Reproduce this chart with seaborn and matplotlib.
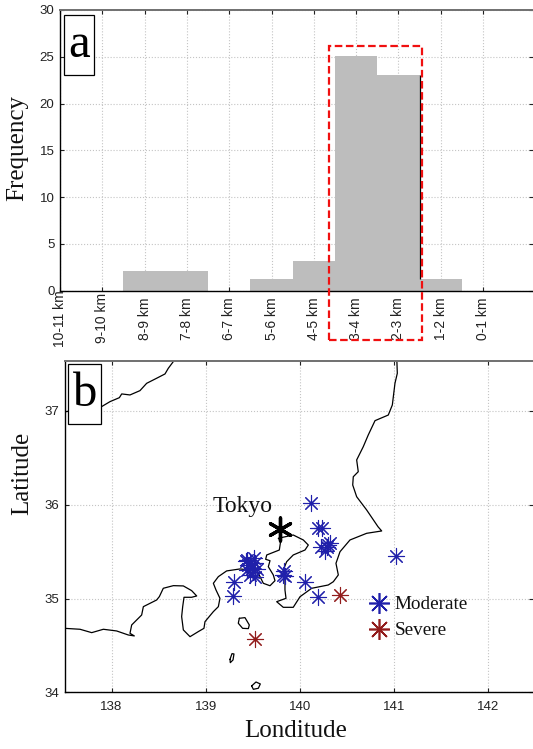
import matplotlib
matplotlib.use("Agg")
import matplotlib.pyplot as plt
import seaborn as sns
from matplotlib.lines import Line2D
from matplotlib.patches import Rectangle

# panel a: histogram of depth
km_labels = ["10-11 km", "9-10 km", "8-9 km", "7-8 km", "6-7 km", "5-6 km",
             "4-5 km", "3-4 km", "2-3 km", "1-2 km", "0-1 km"]
km_counts = [0, 0, 2.1, 2.1, 0, 1.2, 3.2, 25.1, 23.1, 1.2, 0]
freq_ticks = [0, 5, 10, 15, 20, 25, 30]

# panel b: coastlines, lon / lat
coast_south_lon = [137.5, 137.665, 137.789, 137.913, 138.054, 138.178, 138.242, 138.196, 138.214, 138.320,
                   138.338, 138.479, 138.508, 138.550, 138.657, 138.763, 138.851, 138.905, 138.851, 138.770,
                   138.756, 138.745, 138.763, 138.834, 138.922, 138.982, 138.993, 139.082, 139.135, 139.152,
                   139.110, 139.082, 139.135, 139.223, 139.365, 139.471, 139.560, 139.613, 139.684, 139.737,
                   139.719, 139.666, 139.684, 139.638, 139.649, 139.783, 139.798, 139.772, 139.931, 140.038,
                   140.091, 140.056, 139.931, 139.861, 139.825, 139.843, 139.843, 139.854, 139.755, 139.825,
                   139.931, 140.003, 140.127, 140.303, 140.357, 140.410, 140.385, 140.428, 140.534, 140.711,
                   140.871, 140.832, 140.711, 140.605, 140.563, 140.569, 140.622, 140.605, 140.675, 140.728,
                   140.800, 140.941, 140.984, 141.012, 141.037, 141.030]
coast_south_lat = [34.682, 34.672, 34.636, 34.672, 34.654, 34.611, 34.601, 34.629, 34.718, 34.824,
                   34.913, 34.984, 35.020, 35.109, 35.137, 35.134, 35.084, 35.027, 35.013, 35.013,
                   34.913, 34.807, 34.665, 34.593, 34.647, 34.682, 34.753, 34.860, 34.913, 35.002,
                   35.091, 35.162, 35.233, 35.294, 35.315, 35.304, 35.269, 35.162, 35.136, 35.190,
                   35.251, 35.339, 35.403, 35.418, 35.464, 35.517, 35.616, 35.642, 35.677, 35.624,
                   35.570, 35.517, 35.464, 35.392, 35.304, 35.197, 35.091, 35.002, 34.966, 34.906,
                   34.906, 35.019, 35.109, 35.144, 35.179, 35.251, 35.375, 35.499, 35.624, 35.695,
                   35.720, 35.765, 35.944, 36.085, 36.210, 36.298, 36.352, 36.477, 36.618, 36.743,
                   36.896, 36.956, 37.063, 37.294, 37.401, 37.6]
coast_north_lon = [137.5, 137.895, 137.984, 138.083, 138.108, 138.196, 138.302, 138.373, 138.479, 138.568,
                   138.603, 138.656, 138.70]
coast_north_lat = [36.99, 37.046, 37.099, 37.141, 37.181, 37.170, 37.216, 37.294, 37.348, 37.394,
                   37.454, 37.525, 37.6]
island1_lon = [139.358, 139.418, 139.464, 139.454, 139.393, 139.347, 139.358]
island1_lat = [34.789, 34.796, 34.718, 34.679, 34.682, 34.736, 34.789]
island2_lon = [139.259, 139.280, 139.301, 139.291, 139.262, 139.259]
island2_lat = [34.352, 34.412, 34.409, 34.345, 34.316, 34.352]
island3_lon = [139.489, 139.535, 139.581, 139.560, 139.507, 139.489]
island3_lat = [34.068, 34.110, 34.089, 34.043, 34.032, 34.068]

# panel b: events
moderate_lon = [140.120, 140.190, 140.233, 140.321, 140.222, 140.286, 140.268, 140.304, 141.026, 140.056,
                140.197, 139.836, 139.843, 139.827, 139.301, 139.291, 139.443, 139.514, 139.471, 139.524,
                139.489, 139.436, 139.549, 139.471, 139.524, 139.507, 139.454, 139.429]
moderate_lat = [36.015, 35.748, 35.748, 35.596, 35.546, 35.546, 35.510, 35.571, 35.450, 35.180,
                35.020, 35.294, 35.240, 35.251, 35.180, 35.027, 35.411, 35.429, 35.375, 35.375,
                35.322, 35.304, 35.311, 35.251, 35.233, 35.286, 35.357, 35.404]
severe_lon = [140.431, 139.528]
severe_lat = [35.041, 34.569]
tokyo_lon = [139.790]
tokyo_lat = [35.738]

sns.set_theme(style="white")
plt.rcParams["font.family"] = ["Liberation Sans", "DejaVu Sans"]
serif = ["Liberation Serif", "DejaVu Serif"]

blue = "#2020aa"
dark_red = "#921c1c"

fig = plt.figure(figsize=(5.33, 7.49), dpi=100)
ax_a = fig.add_axes([60 / 533, 1 - 290.5 / 749, 473 / 533, 280.5 / 749])
ax_b = fig.add_axes([64.5 / 533, 1 - 692.3 / 749, 468.5 / 533, 331.3 / 749])


def style_axes(ax):
    ax.grid(True, linestyle=":", color="#c4c4c4", linewidth=0.8)
    ax.set_axisbelow(True)
    ax.tick_params(direction="in", top=True, right=True, length=3, width=0.8, color="#222222",
                   bottom=True, left=True, labelsize=9.5, labelcolor="#222222")
    for side in ["left", "bottom"]:
        ax.spines[side].set_color("black")
        ax.spines[side].set_linewidth(1.0)
    ax.spines["top"].set_color("#707070")
    ax.spines["top"].set_linewidth(1.4)
    ax.spines["right"].set_visible(False)


def panel_letter(ax, letter, x, y, w, h):
    ax.add_patch(Rectangle((x, y), w, h, transform=ax.transAxes, facecolor="white",
                           edgecolor="black", linewidth=0.9, zorder=6))
    ax.text(x + w / 2, y + h / 2, letter, transform=ax.transAxes, ha="center", va="center",
            fontsize=35, family=serif, color="black", zorder=7)


# panel a
sns.barplot(x=km_labels, y=km_counts, width=1, color="#bdbdbd", saturation=1, linewidth=0, ax=ax_a)
ax_a.set_xlim(0, 11.18)
ax_a.set_ylim(0, 30)
ax_a.set_yticks(freq_ticks)
style_axes(ax_a)
ax_a.tick_params(axis="x", labelrotation=90, labelsize=10, pad=20)
ax_a.tick_params(axis="y", pad=4)
for lab in ax_a.get_xticklabels():
    lab.set_va("center")
ax_a.vlines(8.5, 1.2, 23.1, color="black", linewidth=0.9, zorder=3)
ax_a.add_patch(Rectangle((6.35, -5.3), 2.2, 31.4, fill=False, edgecolor="#f01010", linewidth=1.6,
                         linestyle=(0, (3.4, 1.6)), clip_on=False, zorder=5))
ax_a.set_ylabel("Frequency", fontsize=18, family=serif, color="#111111")
ax_a.yaxis.set_label_coords(-32 / 473, 0.508)
panel_letter(ax_a, "a", 0.0085, 0.768, 0.0624, 0.214)

# panel b
ax_b.plot(coast_south_lon, coast_south_lat, color="black", linewidth=0.9)
ax_b.plot(coast_north_lon, coast_north_lat, color="black", linewidth=0.9)
ax_b.plot(island1_lon, island1_lat, color="black", linewidth=0.9)
ax_b.plot(island2_lon, island2_lat, color="black", linewidth=0.9)
ax_b.plot(island3_lon, island3_lat, color="black", linewidth=0.9)

sns.scatterplot(x=moderate_lon, y=moderate_lat, marker=(8, 2, 0), s=135, color=blue, linewidth=0.8,
                ax=ax_b, zorder=4)
sns.scatterplot(x=severe_lon, y=severe_lat, marker=(8, 2, 0), s=135, color=dark_red, linewidth=0.8,
                ax=ax_b, zorder=4)
sns.scatterplot(x=tokyo_lon, y=tokyo_lat, marker=(6, 2, 0), s=275, color="black", linewidth=2.4,
                ax=ax_b, zorder=5)

ax_b.set_xlim(137.5, 142.479)
ax_b.set_ylim(34, 37.532)
ax_b.set_xticks([138, 139, 140, 141, 142])
ax_b.set_yticks([34, 35, 36, 37])
style_axes(ax_b)
ax_b.tick_params(axis="x", pad=6)
ax_b.tick_params(axis="y", pad=4)
ax_b.text(139.394, 35.979, "Tokyo", ha="center", va="center", fontsize=17, family=serif, color="#111111")
ax_b.set_xlabel("Londitude", fontsize=18, family=serif, color="#111111", labelpad=5.5, x=0.4936)
ax_b.set_ylabel("Latitude", fontsize=18, family=serif, color="#111111")
ax_b.yaxis.set_label_coords(-31.5 / 468.5, 0.662)
panel_letter(ax_b, "b", 0.0085, 0.810, 0.0694, 0.181)

handles = [Line2D([], [], linestyle="none", marker=(8, 2, 0), markersize=15, color=blue, markeredgewidth=1.2),
           Line2D([], [], linestyle="none", marker=(8, 2, 0), markersize=15, color=dark_red, markeredgewidth=1.2)]
ax_b.legend(handles, ["Moderate", "Severe"], loc="center left", bbox_to_anchor=(0.61, 0.2253), frameon=False,
            prop={"family": serif, "size": 13.8}, labelspacing=0.45, handletextpad=-0.2, borderpad=0,
            labelcolor="#111111")

fig.savefig("out.png", dpi=100)
